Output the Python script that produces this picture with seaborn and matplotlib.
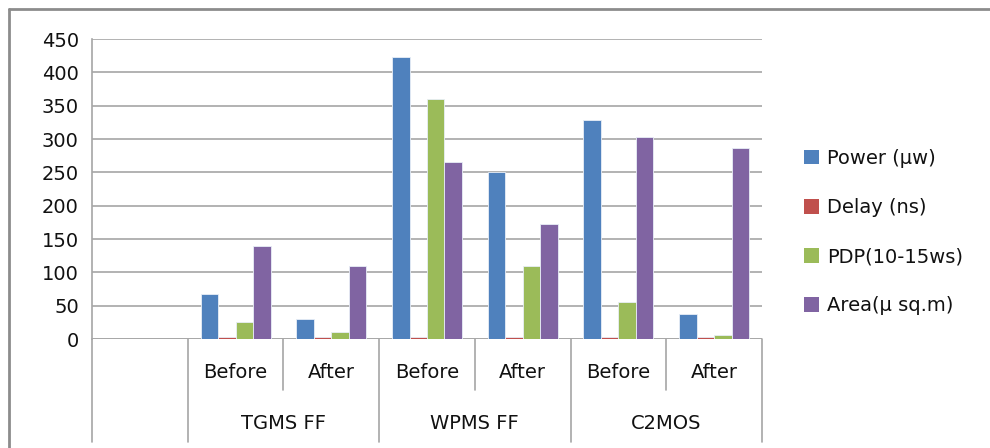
import matplotlib
matplotlib.use("Agg")
import matplotlib.pyplot as plt
import matplotlib.transforms as mtransforms
from matplotlib.patches import Patch
from matplotlib.lines import Line2D
import pandas as pd
import seaborn as sns

# categories (first slot is empty in the original chart)
designs = ["", "TGMS FF", "TGMS FF", "WPMS FF", "WPMS FF", "C2MOS", "C2MOS"]
stages = ["", "Before", "After", "Before", "After", "Before", "After"]
groups = ["TGMS FF", "WPMS FF", "C2MOS"]

series = ["Power (µw)", "Delay (ns)", "PDP(10-15ws)", "Area(µ sq.m)"]
power = [68, 30, 423, 251, 328, 37]
delay = [2.5, 2.5, 2.5, 2.5, 2.5, 2.5]
pdp = [25, 10, 360, 110, 56, 6]
area = [139, 110, 266, 172, 303, 286]
colors = ["#4F81BD", "#C0504D", "#9BBB59", "#8064A2"]

keys = [f"{d}|{s}" for d, s in zip(designs, stages)]
rows = []
for i, k in enumerate(keys[1:]):
    for name, vals in zip(series, [power, delay, pdp, area]):
        rows.append({"cat": k, "series": name, "value": vals[i]})
df = pd.DataFrame(rows)

sns.set_style("white")
plt.rcParams["font.family"] = ["DejaVu Sans"]

fig = plt.figure(figsize=(9.9, 4.48), dpi=100)
ax = fig.add_axes([92 / 990, 1 - 339 / 448, 670 / 990, 300 / 448])

grid_c = "#A6A6A6"
txt_c = "#111111"
fs = 14

# baseline under the bars so the tiny delay bars stay visible
ax.axhline(0, color=grid_c, linewidth=1.2, zorder=1)

sns.barplot(data=df, x="cat", y="value", hue="series", order=keys,
            hue_order=series, palette=colors, saturation=1, width=0.73, ax=ax,
            edgecolor="#E8EEF7", linewidth=0.6, legend=False, zorder=3)

ax.set_xlim(-0.5, len(keys) - 0.5)
ax.set_ylim(0, 450)
ax.set_yticks(range(0, 451, 50))
ax.yaxis.grid(True, color=grid_c, linewidth=1.2, zorder=0)
ax.set_axisbelow(True)
for s in ["top", "right", "bottom"]:
    ax.spines[s].set_visible(False)
ax.spines["left"].set_color(grid_c)
ax.spines["left"].set_linewidth(1.2)
ax.tick_params(axis="y", length=6.5, width=1.2, color=grid_c, labelsize=fs,
               labelcolor=txt_c, pad=3, direction="out")
ax.set_xticks([])
ax.set_xlabel("")
ax.set_ylabel("")

# two-level category axis
trans = mtransforms.blended_transform_factory(ax.transData, ax.transAxes)
for x in [-0.5, 0.5, 2.5, 4.5, 6.5]:
    ax.add_line(Line2D([x, x], [0, -0.343], transform=trans, color=grid_c,
                       linewidth=1.2, clip_on=False))
for x in [1.5, 3.5, 5.5]:
    ax.add_line(Line2D([x, x], [0, -0.17], transform=trans, color=grid_c,
                       linewidth=1.2, clip_on=False))
for i, st in enumerate(stages):
    if st:
        ax.text(i, -0.113, st, transform=trans, ha="center", va="center",
                fontsize=fs, color=txt_c)
for j, g in enumerate(groups):
    ax.text(1.5 + 2 * j, -0.283, g, transform=trans, ha="center", va="center",
            fontsize=fs, color=txt_c)

# legend
handles = [Patch(facecolor=c, edgecolor="none") for c in colors]
leg = fig.legend(handles, series, loc="center left", bbox_to_anchor=(786 / 990, 1 - 232 / 448),
                 frameon=False, fontsize=fs, handlelength=0.8, handleheight=0.8,
                 handletextpad=0.4, labelspacing=1.55)
for t in leg.get_texts():
    t.set_color(txt_c)

# outer chart frame (top and left edges visible)
fig.add_artist(Line2D([9 / 990, 1.0], [1 - 9 / 448, 1 - 9 / 448], transform=fig.transFigure,
                      color="#8C8C8C", linewidth=2))
fig.add_artist(Line2D([9 / 990, 9 / 990], [0.0, 1 - 9 / 448], transform=fig.transFigure,
                      color="#8C8C8C", linewidth=2))

fig.savefig("out.png", dpi=100)
